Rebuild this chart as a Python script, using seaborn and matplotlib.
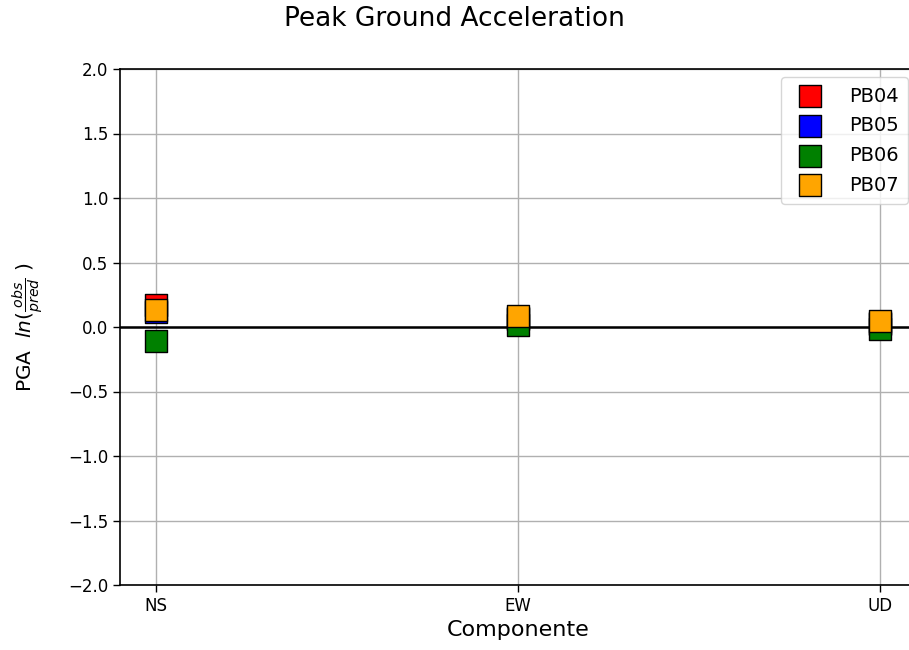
import matplotlib
matplotlib.use("Agg")
import matplotlib.pyplot as plt
import seaborn as sns
import pandas as pd

componentes = ["NS", "EW", "UD"]
stations = ["PB04", "PB05", "PB06", "PB07"]
colors = ["red", "blue", "green", "orange"]
pb04 = [0.17, 0.06, 0.02]
pb05 = [0.12, 0.07, 0.03]
pb06 = [-0.11, 0.015, -0.015]
pb07 = [0.13, 0.087, 0.047]

values = [pb04, pb05, pb06, pb07]

sns.set_style("white")
plt.rcParams['font.family'] = ['DejaVu Sans']
plt.rcParams['text.color'] = 'black'
plt.rcParams['axes.labelcolor'] = 'black'
plt.rcParams['xtick.color'] = 'black'
plt.rcParams['ytick.color'] = 'black'

fig = plt.figure(figsize=(9.09, 6.5), dpi=100)
ax = fig.add_axes([120/909, 1 - 585/650, 796/909, 516/650])

ax.grid(True, color="#b0b0b0", linewidth=1.0, zorder=0)
ax.set_axisbelow(True)
ax.axhline(0, color="black", linewidth=1.8, zorder=1)

for st, col, vals in zip(stations, colors, values):
    df = pd.DataFrame({"x": [0, 1, 2], "y": vals})
    sns.scatterplot(data=df, x="x", y="y", ax=ax, marker="s", s=260,
                    color=col, edgecolor="black", linewidth=1.0,
                    label=st, zorder=3)

ax.set_xticks([0, 1, 2])
ax.set_xticklabels(componentes)
ax.set_xlim(-0.1, 2.1)
ax.set_ylim(-2.0, 2.0)
ax.set_yticks([-2.0, -1.5, -1.0, -0.5, 0.0, 0.5, 1.0, 1.5, 2.0])
ax.tick_params(axis="both", labelsize=12, length=5, width=1.0, color="black",
               direction="out", bottom=True, left=True)
for sp in ax.spines.values():
    sp.set_color("black")
    sp.set_linewidth(1.2)

ax.set_xlabel("Componente", fontsize=16)
ax.set_ylabel(r"PGA  $ln(\frac{obs}{pred}$ )", fontsize=14.5, labelpad=16)
fig.suptitle("Peak Ground Acceleration", fontsize=19, y=0.99)

ax.legend(loc="upper right", fontsize=14, markerscale=1.0, handletextpad=1.0,
          labelspacing=0.55, borderaxespad=0.4, borderpad=0.5)

fig.savefig("out.png", dpi=100)
